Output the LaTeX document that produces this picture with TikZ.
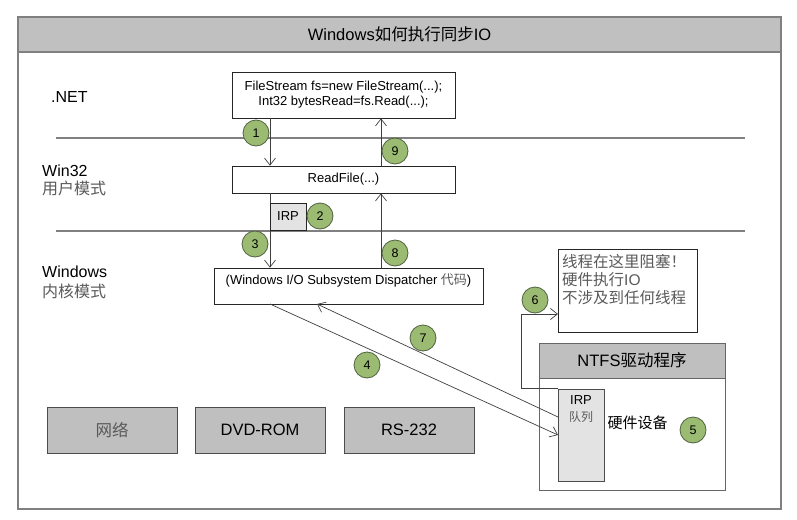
\documentclass[tikz,border=0pt]{standalone}
\usepackage{fontspec}
\setmainfont{Liberation Sans}
\newfontfamily\cjk{Noto Sans CJK SC}
\newfontfamily\latn{Liberation Sans}
\usetikzlibrary{arrows.meta}
\definecolor{framegray}{HTML}{808080}
\definecolor{titlefill}{HTML}{C0C0C0}
\definecolor{boxfill}{HTML}{BFBFBF}
\definecolor{lightfill}{HTML}{E3E3E3}
\definecolor{circfill}{HTML}{9BBB73}
\definecolor{circdraw}{HTML}{4F6340}
\definecolor{txtgray}{HTML}{5A5A5A}
\definecolor{linegray}{HTML}{404040}
\newcommand\fsz[2]{\fontsize{#1}{#2}\selectfont}
\begin{document}
\begin{tikzpicture}[x=1pt,y=-1pt,
  >={Straight Barb[length=7pt,width=11pt,line width=0.7pt]},
  box/.style={draw=black!85, line width=0.7pt, fill=white, inner sep=0pt, font=\fsz{13}{15}},
  graybox/.style={draw=black!70, line width=0.7pt, fill=boxfill, inner sep=0pt, font=\fsz{16.5}{19}},
  lbl/.style={inner sep=0pt, font=\fsz{16}{19}},
  num/.style={circle, draw=circdraw, line width=0.8pt, fill=circfill, minimum size=26pt, inner sep=0pt, font=\fsz{12.5}{14}},
  conn/.style={draw=linegray, line width=0.7pt},
  sep/.style={draw=framegray, line width=1.3pt}
]
\useasboundingbox[fill=white] (0,0) rectangle (797,519);
% outer frame and title
\node[draw=framegray, line width=1.2pt, fill=titlefill, minimum width=763pt, minimum height=35pt, inner sep=0pt, font=\fsz{16.5}{19}] (title) at (399.5,34.5) {Windows{\cjk 如何执行同步}IO};
\draw[framegray, line width=1.3pt] (18,17) rectangle (781,509);
% separators
\draw[sep] (56,138) -- (745,138);
\draw[sep] (56,231) -- (745,231);
% layer labels
\node[lbl, anchor=west] (net) at (51,97) {.NET};
\node[lbl, anchor=west] (win32) at (42,171) {Win32};
\node[lbl, anchor=west, text=txtgray] (umode) at (42,188) {\cjk 用户模式};
\node[lbl, anchor=west] (winker) at (42,272) {Windows};
\node[lbl, anchor=west, text=txtgray] (kmode) at (42,291) {\cjk 内核模式};
% boxes
\node[box, minimum width=223pt, minimum height=46pt, align=center] (fs) at (343.5,95) {FileStream fs=new FileStream(...);\\Int32 bytesRead=fs.Read(...);};
\node[box, minimum width=223pt, minimum height=27pt] (rf) at (343.5,179.5) {ReadFile(...)};
\node[box, minimum width=269pt, minimum height=36pt] (disp) at (348.5,286) {};
\node[inner sep=0pt, font=\fsz{13}{15}] (disptxt) at (348.5,280) {(Windows I/O Subsystem Dispatcher {\cjk\color{txtgray}代码})};
\coordinate (xL) at (270,0);
\coordinate (xR) at (381,0);
% vertical connectors
\draw[conn,->] (fs.south -| xL) -- (rf.north -| xL);
\draw[conn,->] (rf.north -| xR) -- (fs.south -| xR);
\draw[conn,->] (rf.south -| xL) -- (disp.north -| xL);
\draw[conn,->] (disp.north -| xR) -- (rf.south -| xR);
\node[box, fill=lightfill, minimum width=36pt, minimum height=27pt] (irp) at (288,216.5) {IRP};
% right side
\node[box, minimum width=139pt, minimum height=83pt] (thread) at (627.5,290.5) {};
\node[inner sep=0pt, anchor=north west, align=left, text=txtgray, font=\fsz{15.5}{18}\cjk] (threadtxt) at (562,254) {线程在这里阻塞！\\硬件执行{\latn IO}\\不涉及到任何线程};
\node[draw=framegray!80!black, line width=1pt, fill=white, minimum width=186pt, minimum height=147pt, inner sep=0pt] (ntfs) at (632,416.5) {};
\node[draw=framegray!80!black, line width=1pt, fill=boxfill, minimum width=186pt, minimum height=35pt, inner sep=0pt, font=\fsz{16.5}{19}] (ntfshead) at (632,360.5) {NTFS{\cjk 驱动程序}};
\node[draw=black!70, line width=0.7pt, fill=lightfill, minimum width=46pt, minimum height=92pt, inner sep=0pt] (irpq) at (581,435) {};
\node[inner sep=0pt, font=\fsz{13}{15}] (irpqt1) at (581,400) {IRP};
\node[inner sep=0pt, font=\fsz{12}{14}\cjk, text=txtgray] (irpqt2) at (581,417) {队列};
\node[inner sep=0pt, font=\fsz{15}{18}\cjk] (hw) at (637.5,423) {硬件设备};
% diagonal connectors
\coordinate (c4s) at (270,304);
\coordinate (c4e) at (558,435);
\coordinate (c7s) at (558,417);
\coordinate (c7e) at (317,304);
\coordinate (c6) at (558,314);
\draw[conn,->] (c4s) -- (c4e);
\draw[conn,->] (c7s) -- (c7e);
\draw[conn,->] (irpq.north west) -- ++(-36,0) |- (c6);
% bottom devices
\node[graybox, minimum width=130pt, minimum height=46pt, text=txtgray] (netw) at (112,430) {\cjk 网络};
\node[graybox, minimum width=130pt, minimum height=46pt] (dvd) at (260,430) {DVD-ROM};
\node[graybox, minimum width=130pt, minimum height=46pt] (rs) at (409,430) {RS-232};
% step numbers
\node[num] (n1) at (256,133) {1};
\node[num] (n9) at (395,151) {9};
\node[num] (n2) at (320,216) {2};
\node[num] (n3) at (255,244) {3};
\node[num] (n8) at (395,253) {8};
\node[num] (n7) at (423,338) {7};
\node[num] (n4) at (367,365) {4};
\node[num] (n6) at (535,300) {6};
\node[num] (n5) at (693,430) {5};
\end{tikzpicture}
\end{document}
